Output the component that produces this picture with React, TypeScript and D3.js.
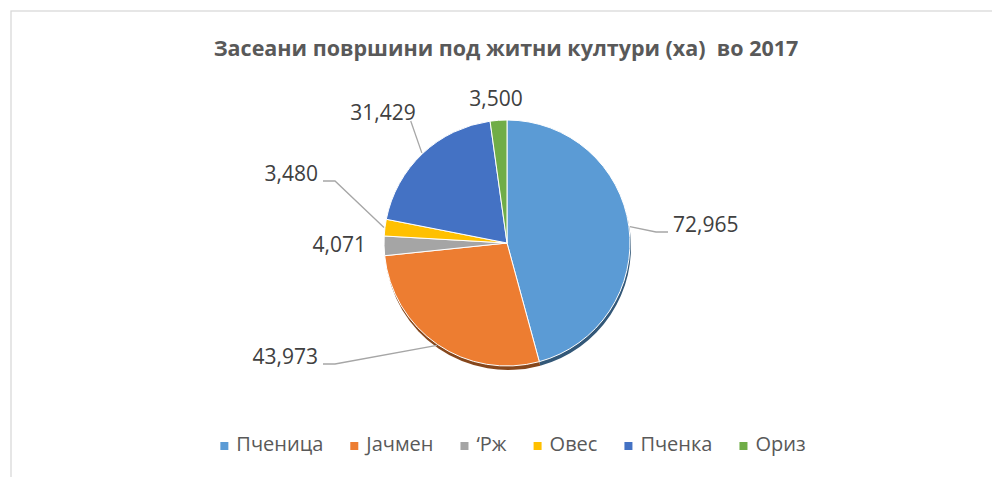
import React from "react";
import * as d3 from "d3";

const categories = ["Пченица", "Јачмен", "‘Рж", "Овес", "Пченка", "Ориз"];
const values = [72965, 43973, 4071, 3480, 31429, 3500];
const colors = ["#5B9BD5", "#ED7D31", "#A5A5A5", "#FFC000", "#4472C4", "#70AD47"];
const titleText = "Засеани површини под житни култури (ха)  во 2017";

// label layout: position of label text relative to pie center, anchor, leader type
const labelLayout = [
  { dx: 166, dy: -18, anchor: "start", leader: "side" },
  { dx: -189, dy: 114, anchor: "end", leader: "side" },
  { dx: -141, dy: 2, anchor: "end", leader: "none" },
  { dx: -189, dy: -69, anchor: "end", leader: "side" },
  { dx: -124, dy: -130, anchor: "middle", leader: "below" },
  { dx: -11, dy: -144, anchor: "middle", leader: "none" },
];

const W = 992;
const H = 477;
const cx = 507;
const cy = 243;
const R = 123;

function measure(text: string, font: string) {
  const c = document.createElement("canvas").getContext("2d")!;
  c.font = font;
  return c.measureText(text).width;
}

export default function App() {
  const pie = d3.pie<number>().sort(null).value((d) => d);
  const arcs = pie(values);
  const arcGen = d3.arc<d3.PieArcDatum<number>>().innerRadius(0).outerRadius(R);
  const fmt = d3.format(",");

  const labelFont = "21px 'Open Sans'";
  const legendFont = "20px 'Open Sans'";
  const widths = categories.map((c) => measure(c, legendFont));
  const sq = 8;
  const gapSqText = 16;
  const gapItems = 27;
  const total = widths.reduce((a, w) => a + gapSqText + w, 0) + gapItems * (categories.length - 1);
  let lx = 513 - total / 2;
  const legendItems = categories.map((c, i) => {
    const item = { x: lx, c, i };
    lx += gapSqText + widths[i] + gapItems;
    return item;
  });

  return (
    <svg width={W} height={H} style={{ position: "absolute", left: 0, top: 0, background: "#fff" }}>
      <rect x={11} y={11} width={W + 10} height={H + 10} fill="#fff" stroke="#d9d9d9" strokeWidth={1.3} />
      <text
        x={506}
        y={56}
        textAnchor="middle"
        fontFamily="'Open Sans'"
        fontWeight={700}
        fontSize={21.5}
        fill="#595959"
        style={{ whiteSpace: "pre" }}
      >
        {titleText}
      </text>
      <g transform={`translate(${cx},${cy})`}>
        <g transform="translate(1,4)">
          {arcs.map((a, i) => (
            <path key={i} d={arcGen(a)!} fill={d3.color(colors[i])!.darker(1.6).toString()} />
          ))}
        </g>
        {arcs.map((a, i) => (
          <path key={i} d={arcGen(a)!} fill={colors[i]} stroke="#fff" strokeWidth={1} />
        ))}
        {arcs.map((a, i) => {
          const L = labelLayout[i];
          const mid = (a.startAngle + a.endAngle) / 2;
          const ax = Math.sin(mid) * (R + 1);
          const ay = -Math.cos(mid) * (R + 1);
          const txt = fmt(values[i]);
          const tw = measure(txt, labelFont);
          let pts: [number, number][] = [];
          const base = L.dy + 7;
          if (L.leader === "side") {
            if (L.anchor === "start") {
              pts = [[ax, ay], [L.dx - 17, base], [L.dx - 5, base]];
            } else {
              pts = [[ax, ay], [L.dx + 17, base], [L.dx + 5, base]];
            }
          } else if (L.leader === "below") {
            pts = [[ax, ay], [L.dx + tw / 2 - 5, L.dy + 8]];
          }
          return (
            <g key={"l" + i}>
              {pts.length > 0 && (
                <path d={d3.line()(pts)!} fill="none" stroke="#a6a6a6" strokeWidth={1.3} />
              )}
              <text
                x={L.dx}
                y={L.dy}
                dy="0.35em"
                textAnchor={L.anchor}
                fontFamily="'Open Sans'"
                fontSize={21}
                fill="#404040"
              >
                {txt}
              </text>
            </g>
          );
        })}
      </g>
      <g>
        {legendItems.map((it) => (
          <g key={it.i}>
            <rect x={it.x} y={442} width={sq} height={sq} fill={colors[it.i]} />
            <text x={it.x + gapSqText} y={444} dy="0.35em" fontFamily="'Open Sans'" fontSize={20} fill="#595959">
              {it.c}
            </text>
          </g>
        ))}
      </g>
    </svg>
  );
}
